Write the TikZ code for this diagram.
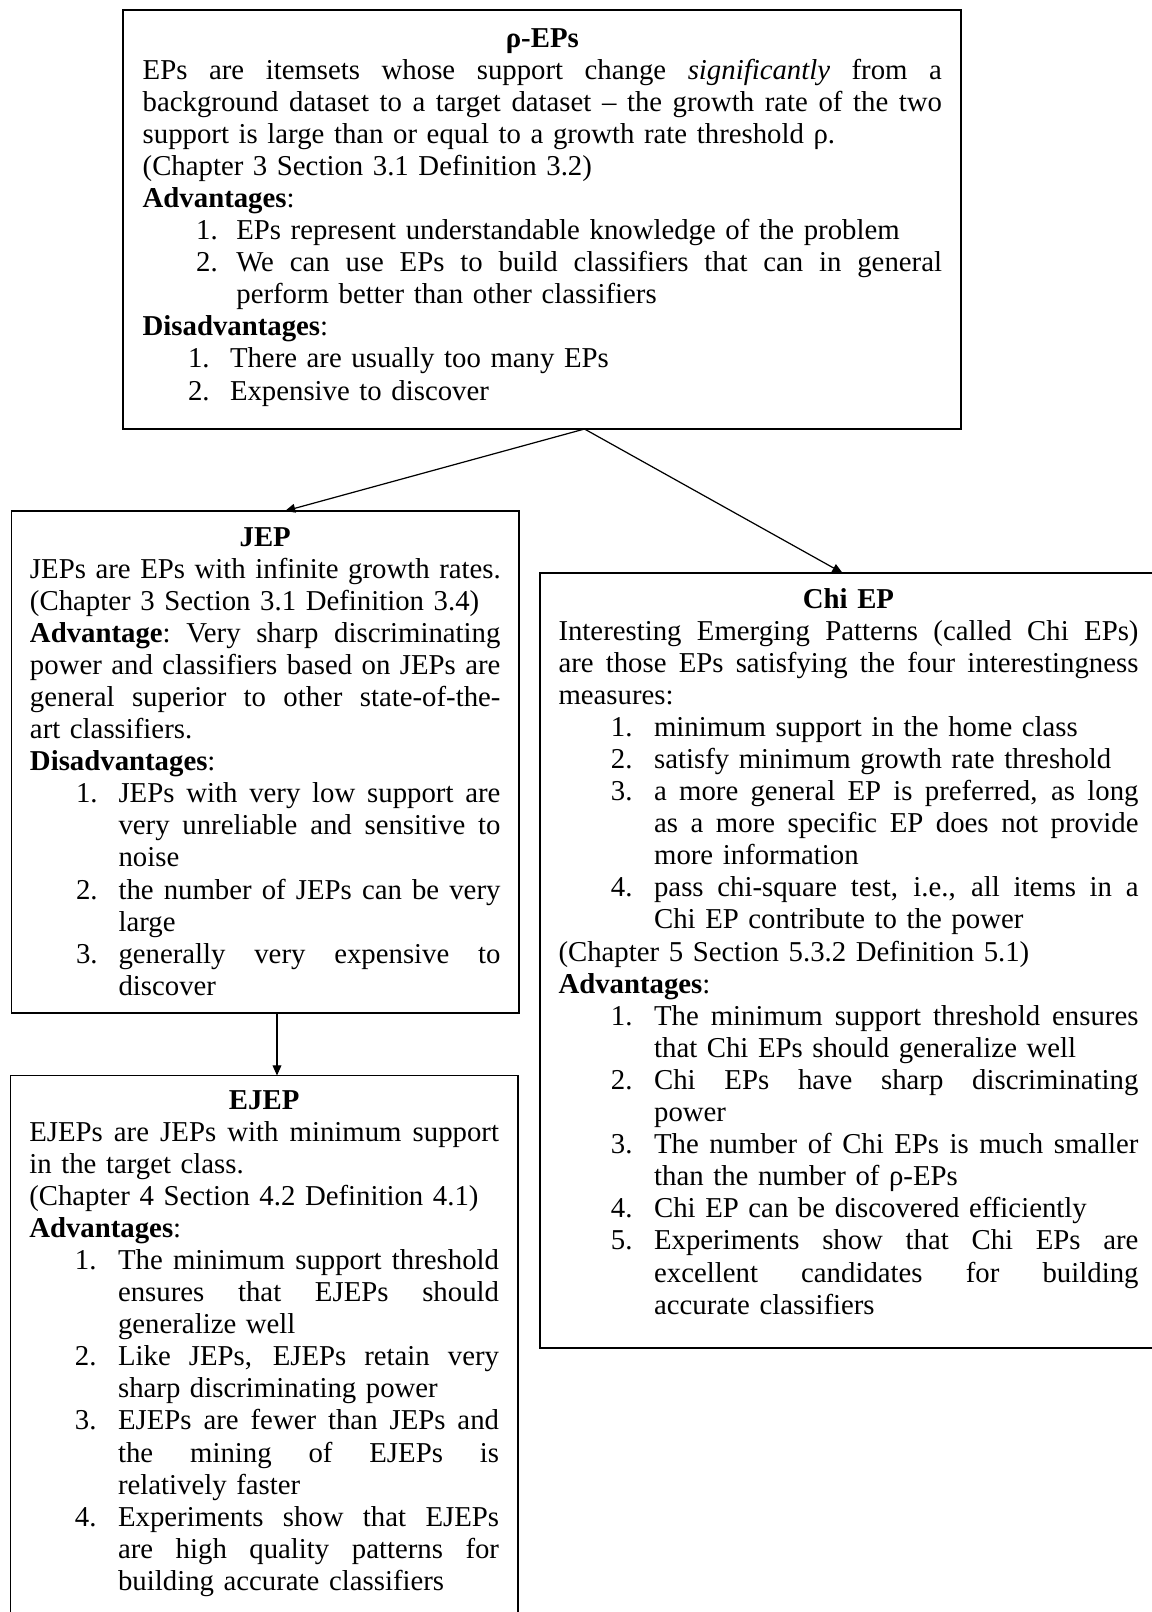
\documentclass[tikz,border=0pt]{standalone}
\usepackage{fontspec}
\setmainfont{Liberation Serif}
\usetikzlibrary{arrows.meta,calc}
\newlength\labx
\newlength\txtx
\newcommand\spr{\spaceskip=\fontdimen2\font plus 1fil\relax\xspaceskip=\spaceskip\relax}
\newcommand\rowJ[1]{\noindent\makebox[\linewidth][s]{\spr#1}\par}
\newcommand\rowN[1]{\noindent\mbox{#1}\par}
\newcommand\rowC[1]{\noindent\makebox[\linewidth][c]{#1}\par}
\newcommand\itJ[2]{\noindent\hspace*{\labx}\makebox[\dimexpr\txtx-\labx\relax][l]{#1}\makebox[\dimexpr\linewidth-\txtx\relax][s]{\spr#2}\par}
\newcommand\itN[2]{\noindent\hspace*{\labx}\makebox[\dimexpr\txtx-\labx\relax][l]{#1}\mbox{#2}\par}
\newcommand\coJ[1]{\noindent\hspace*{\txtx}\makebox[\dimexpr\linewidth-\txtx\relax][s]{\spr#1}\par}
\newcommand\coN[1]{\noindent\hspace*{\txtx}\mbox{#1}\par}
\tikzset{
  box/.style={draw, line width=0.7pt, inner sep=0pt, outer sep=0pt, anchor=north west},
  txt/.style={inner sep=0pt, outer sep=0pt, anchor=base west, font=\fontsize{11.8pt}{13.16pt}\selectfont},
  arr/.style={draw, line width=0.5pt, -{Triangle[length=4.2pt,width=3.6pt]}}
}
\begin{document}
\begin{tikzpicture}[x=0.41pt,y=-0.41pt]
\useasboundingbox (0,0) rectangle (1152,1612);
\clip (0,0) rectangle (1152,1612);
\fill[white] (0,0) rectangle (1152,1612);

% boxes
\node[box, minimum width=343.58pt, minimum height=171.79pt] (top) at (123,10) {};
\node[box, minimum width=208.2pt, minimum height=205.8pt] (jep) at (11.5,511) {};
\node[box, minimum width=208.2pt, minimum height=231.9pt] (ejep) at (10.5,1075.5) {};
\node[box, minimum width=254pt, minimum height=317.75pt] (chi) at (540,573) {};

% texts
\node[txt, text width=327.7pt] (toptext) at (142.7,47) {%
\rowC{\textbf{ρ-EPs}}
\rowJ{EPs are itemsets whose support change \textit{significantly} from a}
\rowJ{background dataset to a target dataset – the growth rate of the two}
\rowN{support is large than or equal to a growth rate threshold ρ.}
\rowN{(Chapter 3 Section 3.1 Definition 3.2)}
\rowN{\textbf{Advantages}:}
\setlength\labx{21.9pt}\setlength\txtx{38.4pt}%
\itN{1.}{EPs represent understandable knowledge of the problem}
\itJ{2.}{We can use EPs to build classifiers that can in general}
\coN{perform better than other classifiers}
\rowN{\textbf{Disadvantages}:}
\setlength\labx{18.6pt}\setlength\txtx{35.8pt}%
\itN{1.}{There are usually too many EPs}
\itN{2.}{Expensive to discover}
};

\node[txt, text width=192.9pt] (jeptext) at (30,546) {%
\setlength\labx{18.9pt}\setlength\txtx{36.3pt}%
\rowC{\textbf{JEP}}
\rowN{JEPs are EPs with infinite growth rates.}
\rowN{(Chapter 3 Section 3.1 Definition 3.4)}
\rowJ{\textbf{Advantage}: Very sharp discriminating}
\rowJ{power and classifiers based on JEPs are}
\rowJ{general superior to other state-of-the-}
\rowN{art classifiers.}
\rowN{\textbf{Disadvantages}:}
\itJ{1.}{JEPs with very low support are}
\coJ{very unreliable and sensitive to}
\coN{noise}
\itJ{2.}{the number of JEPs can be very}
\coN{large}
\itJ{3.}{generally very expensive to}
\coN{discover}
};

\node[txt, text width=192.6pt] (ejeptext) at (29.3,1109) {%
\setlength\labx{18.7pt}\setlength\txtx{36.4pt}%
\rowC{\textbf{EJEP}}
\rowJ{EJEPs are JEPs with minimum support}
\rowN{in the target class.}
\rowN{(Chapter 4 Section 4.2 Definition 4.1)}
\rowN{\textbf{Advantages}:}
\itJ{1.}{The minimum support threshold}
\coJ{ensures that EJEPs should}
\coN{generalize well}
\itJ{2.}{Like JEPs, EJEPs retain very}
\coN{sharp discriminating power}
\itJ{3.}{EJEPs are fewer than JEPs and}
\coJ{the mining of EJEPs is}
\coN{relatively faster}
\itJ{4.}{Experiments show that EJEPs}
\coJ{are high quality patterns for}
\coN{building accurate classifiers}
};

\node[txt, text width=237.8pt] (chitext) at (558.5,608) {%
\setlength\labx{21.5pt}\setlength\txtx{39.2pt}%
\rowC{\textbf{Chi EP}}
\rowJ{Interesting Emerging Patterns (called Chi EPs)}
\rowJ{are those EPs satisfying the four interestingness}
\rowN{measures:}
\itN{1.}{minimum support in the home class}
\itN{2.}{satisfy minimum growth rate threshold}
\itJ{3.}{a more general EP is preferred, as long}
\coJ{as a more specific EP does not provide}
\coN{more information}
\itJ{4.}{pass chi-square test, i.e., all items in a}
\coN{Chi EP contribute to the power}
\rowN{(Chapter 5 Section 5.3.2 Definition 5.1)}
\rowN{\textbf{Advantages}:}
\itJ{1.}{The minimum support threshold ensures}
\coN{that Chi EPs should generalize well}
\itJ{2.}{Chi EPs have sharp discriminating}
\coN{power}
\itJ{3.}{The number of Chi EPs is much smaller}
\coN{than the number of ρ-EPs}
\itN{4.}{Chi EP can be discovered efficiently}
\itJ{5.}{Experiments show that Chi EPs are}
\coJ{excellent candidates for building}
\coN{accurate classifiers}
};

% connectors
\draw[arr] ($(top.south west)+(461.5,0)$) -- ($(jep.north west)+(273.5,0)$);
\draw[arr] ($(top.south west)+(461.5,0)$) -- ($(chi.north west)+(302.6,0)$);
\draw[arr] ($(jep.south west)+(265.5,0)$) -- ($(ejep.north west)+(266.5,0)$);
\end{tikzpicture}
\end{document}
